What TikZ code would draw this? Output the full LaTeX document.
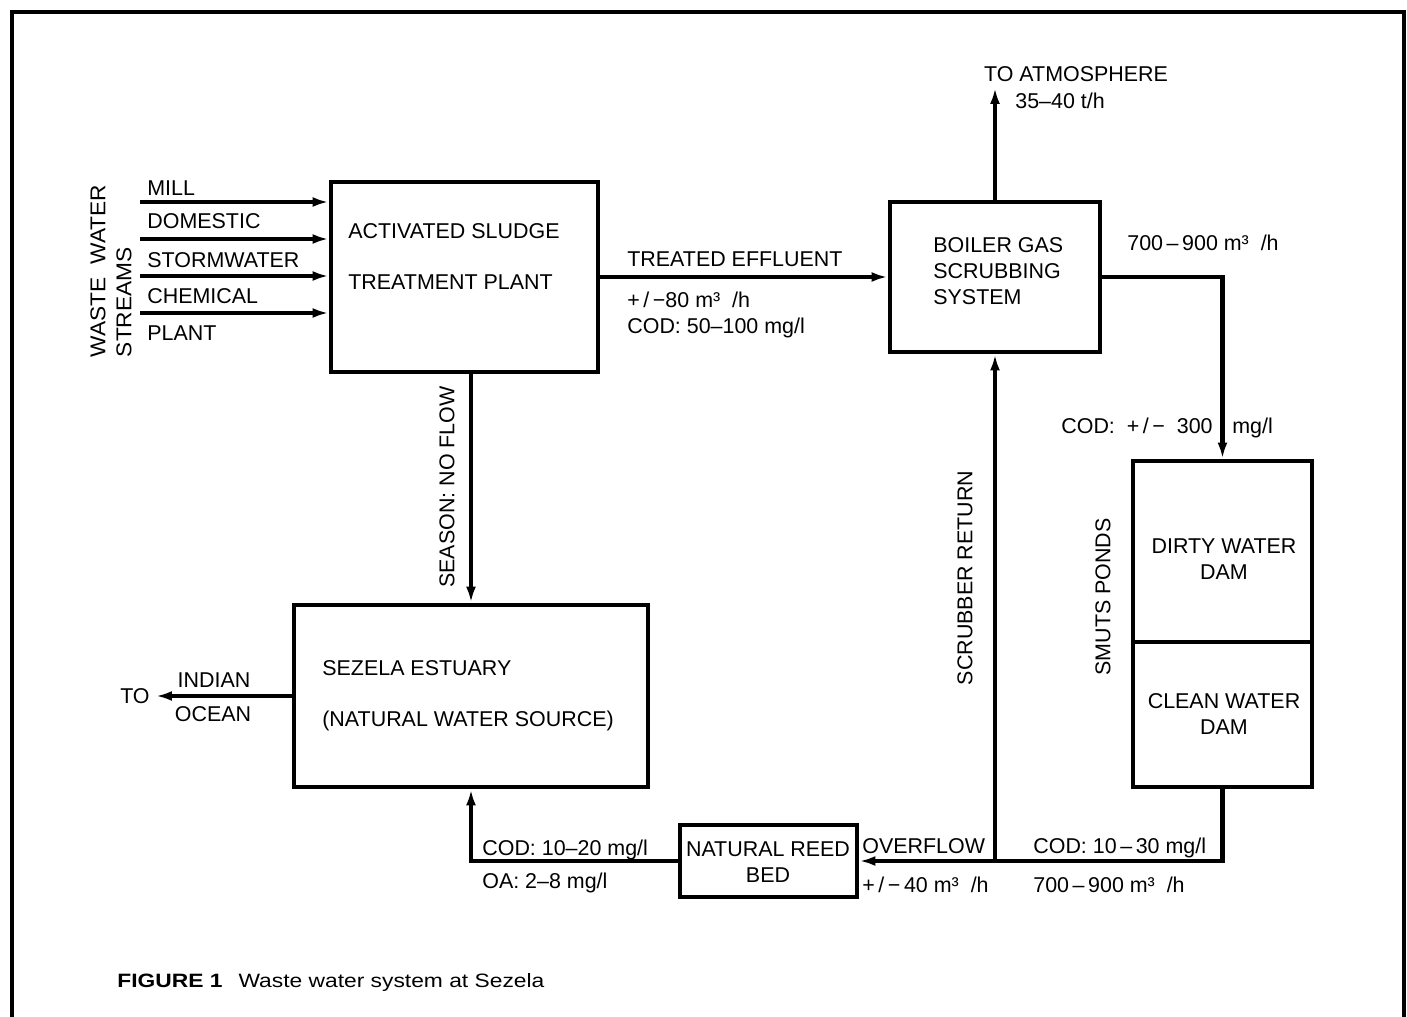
\documentclass[tikz,border=0pt]{standalone}
\usepackage{fontspec}
\setmainfont{Liberation Sans}
\newfontfamily\capfont[FakeStretch=1.18]{Liberation Sans}
\usetikzlibrary{arrows.meta,positioning,fit,calc}

\begin{document}
\begin{tikzpicture}[
	x=0.02cm, y=-0.02cm,
	font=\fontsize{12.2}{14.8}\selectfont,
	box/.style={rectangle, draw, line width=2.8pt, inner sep=0pt},
	lbl/.style={inner sep=0pt, anchor=base west},
	blk/.style={inner sep=0pt, align=left, anchor=north west},
	mid/.style={inner sep=0pt, align=center},
	vlbl/.style={inner sep=0pt, rotate=90},
	arr/.style={-{Latex[length=0.32cm, width=0.2cm]}, line width=2.3pt}
]
\useasboundingbox (0,0) rectangle (1407,1017);
\draw[line width=2.6pt] (12,1017) -- (12,12) -- (1404,12) -- (1404,1017);

% boxes
\node[box, fit={(331,182) (598,372)}] (asp) {};
\node[box, fit={(890,202) (1100,352)}] (boiler) {};
\node[box, fit={(294,605) (648,787)}] (est) {};
\node[box, fit={(680,825) (857,897)}] (reed) {};
\node[box, fit={(1133,461) (1312,642)}] (dirty) {};
\node[box, fit={(1133,642) (1312,787)}] (clean) {};

\node[blk] (asptxt) at (348,223) {ACTIVATED SLUDGE\\[14.2pt]TREATMENT PLANT};
\node[blk] (boilertxt) at (933,237) {BOILER GAS\\SCRUBBING\\SYSTEM};
\node[blk] (esttxt) at (322,660) {SEZELA ESTUARY\\[14.2pt](NATURAL WATER SOURCE)};
\node[mid] (reedtxt) at (768,862) {NATURAL REED\\BED};
\node[mid] (dirtytxt) at (1224,559) {DIRTY WATER\\DAM};
\node[mid] (cleantxt) at (1224,714) {CLEAN WATER\\DAM};

% waste water streams
\node[vlbl, align=left, font={\fontsize{12.2}{14.8}\selectfont\addfontfeature{FakeStretch=1.06}}] (streams) at (111,271) {WASTE\ \ WATER\\STREAMS};
\foreach \t/\y [count=\i] in {MILL/195, DOMESTIC/228, STORMWATER/267, CHEMICAL/303, PLANT/340}
	\node[lbl] (src\i txt) at (147,\y) {\t};
\foreach \y [count=\i] in {202,239,276,313} {
	\coordinate (src\i) at (140,\y);
	\draw[arr] (src\i) -- (src\i -| asp.west);
}

% treated effluent
\draw[arr] (asp.east) -- (boiler.west);
\node[lbl] (te) at (627,266) {TREATED EFFLUENT};
\node[blk] (tedata) at (627,292) {+\,/\,−80 m³\ \ /h\\COD:\ 50–100 mg/l};

% to atmosphere
\coordinate (atm) at (995,88);
\draw[arr] (boiler.north) -- (atm);
\node[inner sep=0pt, anchor=base] (atmtxt) at (1076,82) {TO ATMOSPHERE};
\node[lbl] (atmrate) at (1015,109) {35–40\ t/h};

% scrubber water to smuts ponds
\draw[arr] (boiler.east) -| (dirty.north);
\node[lbl] (scrubrate) at (1127,250) {700\,–\,900 m³\ \ /h};
\node[inner sep=0pt, anchor=base east] (codin) at (1213,433) {COD:\ \ +\,/\,−\ \ 300};
\node[lbl] (codunit) at (1232,433) {mg/l};
\node[vlbl] (smuts) at (1103,597) {SMUTS PONDS};

% return and overflow
\draw[arr] (clean.south) |- (reed.east);
\coordinate (jn) at (boiler.south |- reed.east);
\draw[arr] (jn) -- (boiler.south);
\node[vlbl] (ret) at (965,578) {SCRUBBER RETURN};
\node[lbl] (ovf) at (862,853) {OVERFLOW};
\node[lbl] (ovfrate) at (862,892) {+\,/\,−\,40 m³\ \ /h};
\node[lbl] (codret) at (1033,853) {COD:\ 10\,–\,30 mg/l};
\node[lbl] (retrate) at (1033,892) {700\,–\,900 m³\ \ /h};

% reed bed to estuary
\draw[arr] (reed.west) -| (est.south);
\node[lbl] (codout) at (482,855) {COD:\ 10–20 mg/l};
\node[lbl] (oaout) at (482,888) {OA:\ 2–8 mg/l};

% season flow
\draw[arr] (asp.south -| est.north) -- (est.north);
\node[vlbl] (season) at (447,487) {SEASON: NO FLOW};

% to the ocean
\node[inner sep=0pt, anchor=base east] (to) at (150,703) {TO};
\draw[arr, shorten >=0.12cm] (est.west) -- (est.west -| to.east);
\node[inner sep=0pt, anchor=base] (indian) at (214,687) {INDIAN};
\node[inner sep=0pt, anchor=base] (ocean) at (213,721) {OCEAN};

\node[lbl, font=\capfont\fontsize{11}{13}\selectfont] (caption) at (117,987) {\textbf{FIGURE 1}\hspace{0.32cm}Waste water system at Sezela};
\end{tikzpicture}
\end{document}
